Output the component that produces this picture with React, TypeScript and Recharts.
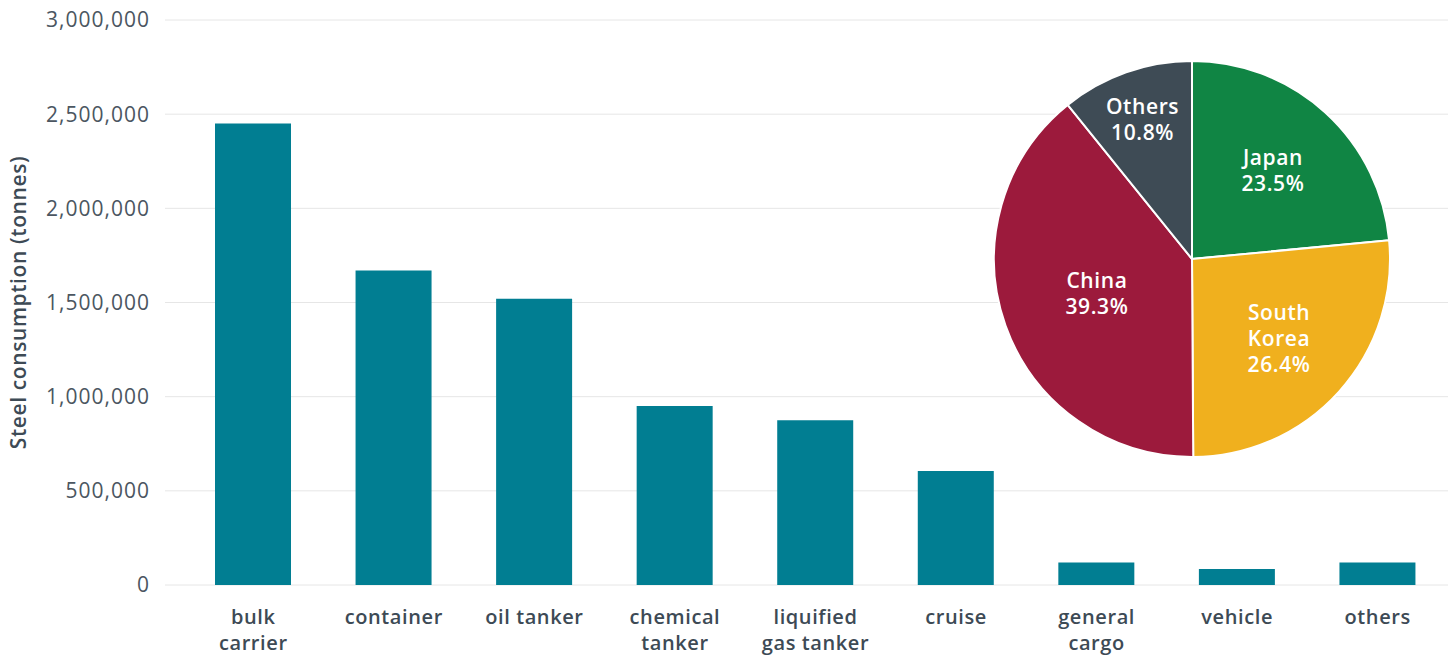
import { BarChart, Bar, XAxis, YAxis, CartesianGrid, Label, PieChart, Pie, Cell } from 'recharts'

const shipTypes = ['bulk carrier', 'container', 'oil tanker', 'chemical tanker', 'liquified gas tanker', 'cruise', 'general cargo', 'vehicle', 'others']
const steelTonnes = [2450000, 1670000, 1520000, 950000, 875000, 605000, 120000, 85000, 120000]
const yTicks = [0, 500000, 1000000, 1500000, 2000000, 2500000, 3000000]

const builders = ['Japan', 'South Korea', 'China', 'Others']
const builderShare = [23.5, 26.4, 39.3, 10.8]
const builderColors = ['#108544', '#f0b01e', '#9c1a3c', '#3e4b55']

// x label line breaks, as in the original
const tickLines: Record<string, string[]> = {
  'bulk carrier': ['bulk', 'carrier'],
  'chemical tanker': ['chemical', 'tanker'],
  'liquified gas tanker': ['liquified', 'gas tanker'],
  'general cargo': ['general', 'cargo'],
}

const barData = shipTypes.map((type, i) => ({ type, tonnes: steelTonnes[i] }))
const pieData = builders.map((name, i) => ({ name, share: builderShare[i] }))

const FONT = '"Open Sans", sans-serif'

function ShipTick({ x, y, payload }: any) {
  const lines = tickLines[payload.value] ?? [payload.value]
  return (
    <text x={x} y={y} textAnchor="middle" fill="#3d4a55" fontSize={20} fontWeight={600} letterSpacing={0.6} fontFamily={FONT}>
      {lines.map((line, i) => (
        <tspan key={line} x={x} dy={i === 0 ? 31 : 26}>{line}</tspan>
      ))}
    </text>
  )
}

// label sits at the slice centroid; thin slices get pushed outward
function SliceLabel({ cx, cy, midAngle, outerRadius, percent, name, share }: any) {
  const theta = percent * 2 * Math.PI
  const centroid = (4 * outerRadius * Math.sin(theta / 2)) / (3 * theta)
  const r = percent < 0.15 ? outerRadius * 0.75 : centroid
  const rad = (-midAngle * Math.PI) / 180
  const x = cx + r * Math.cos(rad)
  const y = cy + r * Math.sin(rad)
  const lines = [...String(name).split(' '), `${share.toFixed(1)}%`]
  const top = y - ((lines.length - 1) * 26) / 2
  return (
    <text x={x} y={top} textAnchor="middle" dominantBaseline="central" fill="#fff" fontSize={21} fontWeight={600} letterSpacing={0.6} fontFamily={FONT}>
      {lines.map((line, i) => (
        <tspan key={i} x={x} dy={i === 0 ? 0 : 26}>{line}</tspan>
      ))}
    </text>
  )
}

export default function App() {
  return (
    <div style={{ position: 'absolute', left: 0, top: 0, width: 1454, height: 658, background: '#fff', fontFamily: FONT }}>
      <BarChart width={1454} height={658} data={barData} margin={{ top: 20, right: 6, bottom: 0, left: 0 }} barSize={76}>
        <CartesianGrid stroke="#e6e6e6" vertical={false} />
        <XAxis dataKey="type" axisLine={false} tickLine={false} height={73} interval={0} padding={{ left: 18, right: 0 }} tick={<ShipTick />} />
        <YAxis
          width={165}
          domain={[0, 3000000]}
          ticks={yTicks}
          axisLine={false}
          tickLine={false}
          tickSize={0}
          tickMargin={15}
          tick={{ fontSize: 21, fill: '#4b5661', fontFamily: FONT, letterSpacing: 1 }}
          tickFormatter={(v: number) => v.toLocaleString('en-US')}
        >
          <Label
            content={({ viewBox }: any) => {
              const cy = viewBox.y + viewBox.height / 2
              return (
                <text x={18} y={cy} transform={`rotate(-90 18 ${cy})`} textAnchor="middle" dominantBaseline="central"
                  fill="#3d4a55" fontSize={21} fontWeight={600} letterSpacing={0.6} fontFamily={FONT}>
                  Steel consumption (tonnes)
                </text>
              )
            }}
          />
        </YAxis>
        <Bar dataKey="tonnes" fill="#017e92" isAnimationActive={false} />
      </BarChart>
      <div style={{ position: 'absolute', left: 977, top: 44 }}>
        <PieChart width={430} height={430}>
          <Pie
            data={pieData}
            dataKey="share"
            nameKey="name"
            cx={210}
            cy={210}
            outerRadius={198}
            startAngle={90}
            endAngle={-270}
            stroke="#fff"
            strokeWidth={2}
            labelLine={false}
            label={SliceLabel}
            isAnimationActive={false}
          >
            {pieData.map((d, i) => <Cell key={d.name} fill={builderColors[i]} />)}
          </Pie>
        </PieChart>
      </div>
    </div>
  )
}
